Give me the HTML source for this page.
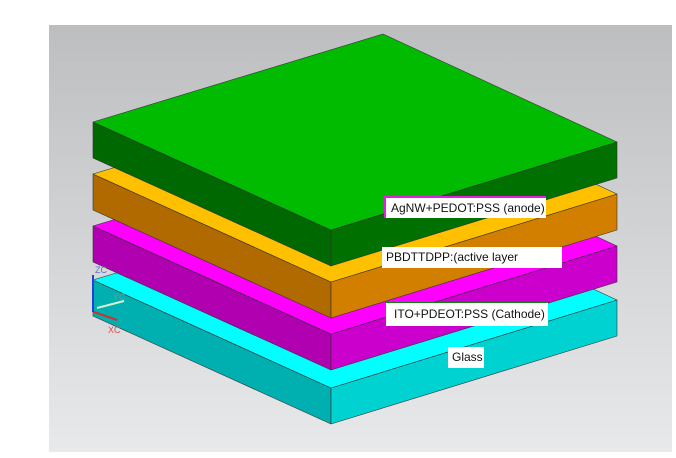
<!DOCTYPE html>
<html><head><style>
body{margin:0;width:676px;height:458px;background:#fff;position:relative;overflow:hidden;font-family:"Liberation Sans",sans-serif}
.lb{position:absolute;background:#fff;font-size:12px;line-height:20px;color:#111;white-space:nowrap}
</style></head><body>
<svg width="676" height="458" style="position:absolute;left:0;top:0">
<defs><linearGradient id="bg" x1="0" y1="0" x2="0" y2="1"><stop offset="0" stop-color="#bdbec0"/><stop offset="1" stop-color="#e8e9eb"/></linearGradient></defs>
<rect x="49" y="25" width="623" height="427" fill="url(#bg)"/>
<g stroke="#333" stroke-width="0.6" stroke-linejoin="round">
<!-- cyan y=280 -->
<polygon points="93,280 331,388 331,424 93,316" fill="#00b0b0"/>
<polygon points="331,388 617,300 617,336 331,424" fill="#00d2d2"/>
<polygon points="93,280 383,192 617,300 331,388" fill="#00ffff"/>
<!-- magenta y=226 -->
<polygon points="93,226 331,334 331,370 93,262" fill="#b000b0"/>
<polygon points="331,334 617,246 617,282 331,370" fill="#cc00cc"/>
<polygon points="93,226 383,138 617,246 331,334" fill="#ff00ff"/>
<!-- orange y=174 -->
<polygon points="93,174 331,282 331,318 93,210" fill="#b06a00"/>
<polygon points="331,282 617,194 617,230 331,318" fill="#d27f00"/>
<polygon points="93,174 383,86 617,194 331,282" fill="#ffc000"/>
<!-- green y=122 -->
<polygon points="93,122 331,230 331,266 93,158" fill="#006800"/>
<polygon points="331,230 617,142 617,178 331,266" fill="#007000"/>
<polygon points="93,122 383,34 617,142 331,230" fill="#00bb00"/>
</g>
<g font-size="9" font-family="Liberation Sans,sans-serif">
<line x1="93" y1="275" x2="93" y2="312" stroke="#2040e0" stroke-width="2"/>
<text x="95" y="273" fill="#6070d0">ZC</text>
<line x1="97" y1="308" x2="124" y2="301" stroke="#d8f0d0" stroke-width="2"/>
<text x="113" y="300" fill="#60a0a0">YC</text>
<line x1="94" y1="312" x2="117" y2="320" stroke="#d03030" stroke-width="2"/>
<text x="108" y="333" fill="#d05050">XC</text>
</g>
</svg>
<div class="lb" style="left:384px;top:196px;width:162px;height:22px;border-top:2px solid #e020e0;border-left:2px solid #e020e0;padding-left:5px;box-sizing:border-box;line-height:20px">AgNW+PEDOT:PSS (anode)</div>
<div class="lb" style="left:382px;top:247px;width:180px;height:21px;padding-left:4px;box-sizing:border-box">PBDTTDPP:(active layer</div>
<div class="lb" style="left:386px;top:302px;width:162px;height:24px;border-top:1px solid #108010;padding-left:8px;box-sizing:border-box;line-height:22px">ITO+PDEOT:PSS (Cathode)</div>
<div class="lb" style="left:448px;top:347px;width:36px;height:21px;padding-left:4px;box-sizing:border-box">Glass</div>
</body></html>
